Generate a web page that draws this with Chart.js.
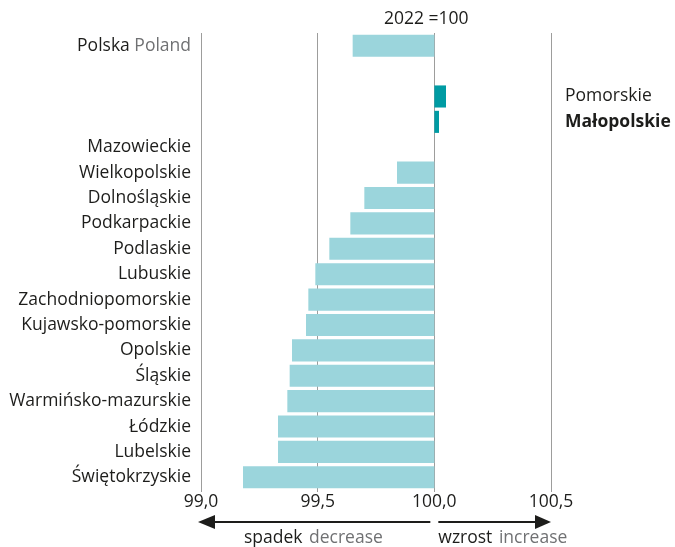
<!DOCTYPE html>
<html>
<head>
<meta charset="utf-8">
<script src="https://cdn.jsdelivr.net/npm/chart.js"></script>
<style>
  html, body { margin: 0; padding: 0; background: #fff; }
  #wrap { width: 675px; height: 547px; position: relative; }
</style>
</head>
<body>
<div id="wrap"><canvas id="chart"></canvas></div>
<script>
const regions = ["Polska", "", "Pomorskie", "Małopolskie", "Mazowieckie", "Wielkopolskie", "Dolnośląskie",
    "Podkarpackie", "Podlaskie", "Lubuskie", "Zachodniopomorskie", "Kujawsko-pomorskie", "Opolskie",
    "Śląskie", "Warmińsko-mazurskie", "Łódzkie", "Lubelskie", "Świętokrzyskie"];
const values = [99.65, null, 100.05, 100.02, 100.0, 99.84, 99.70, 99.64, 99.55, 99.49, 99.46, 99.45,
    99.39, 99.38, 99.37, 99.33, 99.33, 99.18];
const rightLabels = ["Pomorskie", "Małopolskie"];
const base = 100;
const xTicks = [99.0, 99.5, 100.0, 100.5];

const FONT = "'Open Sans', sans-serif";
const FS = "17.5px ";
const DARK = "#1d1d1b";
const GREY = "#707173";

const overlay = {
    id: "overlay",
    afterDraw(chart) {
        const { ctx, chartArea } = chart;
        const x = chart.scales.x, y = chart.scales.y;
        ctx.save();
        ctx.textBaseline = "middle";
        ctx.font = FS + FONT;

        regions.forEach((name, i) => {
            if (!name) return;
            const py = y.getPixelForValue(i);
            if (rightLabels.includes(name)) {
                ctx.textAlign = "left";
                ctx.fillStyle = DARK;
                ctx.font = (name === "Małopolskie" ? "bold " : "") + FS + FONT;
                ctx.fillText(name, chartArea.right + 14, py);
                ctx.font = FS + FONT;
                return;
            }
            ctx.textAlign = "right";
            if (name === "Polska") {
                const en = " Poland";
                ctx.fillStyle = GREY;
                ctx.fillText(en, chartArea.left - 10, py);
                const w = ctx.measureText(en).width;
                ctx.fillStyle = DARK;
                ctx.fillText(name, chartArea.left - 10 - w, py);
            } else {
                ctx.fillStyle = DARK;
                ctx.fillText(name, chartArea.left - 10, py);
            }
        });

        // title
        ctx.textAlign = "center";
        ctx.fillStyle = DARK;
        ctx.fillText("2022 =100", x.getPixelForValue(base) - 8, 19);

        // arrows
        const ay = 522;
        const x0 = x.getPixelForValue(xTicks[0]);
        const xb = x.getPixelForValue(base);
        const x1 = x.getPixelForValue(xTicks[xTicks.length - 1]);
        ctx.strokeStyle = DARK;
        ctx.fillStyle = DARK;
        ctx.lineWidth = 2;
        ctx.beginPath();
        ctx.moveTo(xb - 4, ay); ctx.lineTo(x0 + 12, ay);
        ctx.moveTo(xb + 4, ay); ctx.lineTo(x1 - 12, ay);
        ctx.stroke();
        ctx.beginPath();
        ctx.moveTo(x0 - 3, ay); ctx.lineTo(x0 + 14, ay - 7); ctx.lineTo(x0 + 14, ay + 7); ctx.closePath();
        ctx.fill();
        ctx.beginPath();
        ctx.moveTo(x1, ay); ctx.lineTo(x1 - 16, ay - 7); ctx.lineTo(x1 - 16, ay + 7); ctx.closePath();
        ctx.fill();

        // arrow captions
        ctx.textAlign = "left";
        const cy = 538;
        let tx = 244;
        ctx.fillStyle = DARK;
        ctx.fillText("spadek", tx, cy);
        tx += ctx.measureText("spadek ").width + 2;
        ctx.fillStyle = GREY;
        ctx.fillText("decrease", tx, cy);
        tx = xb + 4;
        ctx.fillStyle = DARK;
        ctx.fillText("wzrost", tx, cy);
        tx += ctx.measureText("wzrost ").width + 2;
        ctx.fillStyle = GREY;
        ctx.fillText("increase", tx, cy);
        ctx.restore();
    }
};

new Chart(document.getElementById("chart"), {
    type: "bar",
    data: {
        labels: regions,
        datasets: [{
            data: values.map(v => v === null ? null : [base, v]),
            backgroundColor: regions.map(r => rightLabels.includes(r) ? "#009ba3" : "#9bd5dc"),
            borderWidth: 0,
            barPercentage: 0.87,
            categoryPercentage: 1.0,
            borderSkipped: false
        }]
    },
    options: {
        indexAxis: "y",
        responsive: true,
        maintainAspectRatio: false,
        animation: false,
        layout: { padding: { left: 201, right: 124, top: 33, bottom: 34 } },
        plugins: {
            legend: { display: false },
            tooltip: { enabled: false }
        },
        scales: {
            x: {
                min: 99.0,
                max: 100.5,
                afterBuildTicks: axis => { axis.ticks = xTicks.map(v => ({ value: v })); },
                ticks: {
                    color: DARK,
                    font: { family: FONT, size: 17.5 },
                    padding: 0,
                    callback: v => v.toFixed(1).replace(".", ",")
                },
                grid: {
                    color: "#9d9d9c",
                    lineWidth: 1,
                    drawTicks: true,
                    tickLength: 2
                },
                border: { display: false }
            },
            y: {
                display: false,
                afterFit: axis => { axis.width = 0; }
            }
        }
    },
    plugins: [overlay]
});
</script>
</body>
</html>
